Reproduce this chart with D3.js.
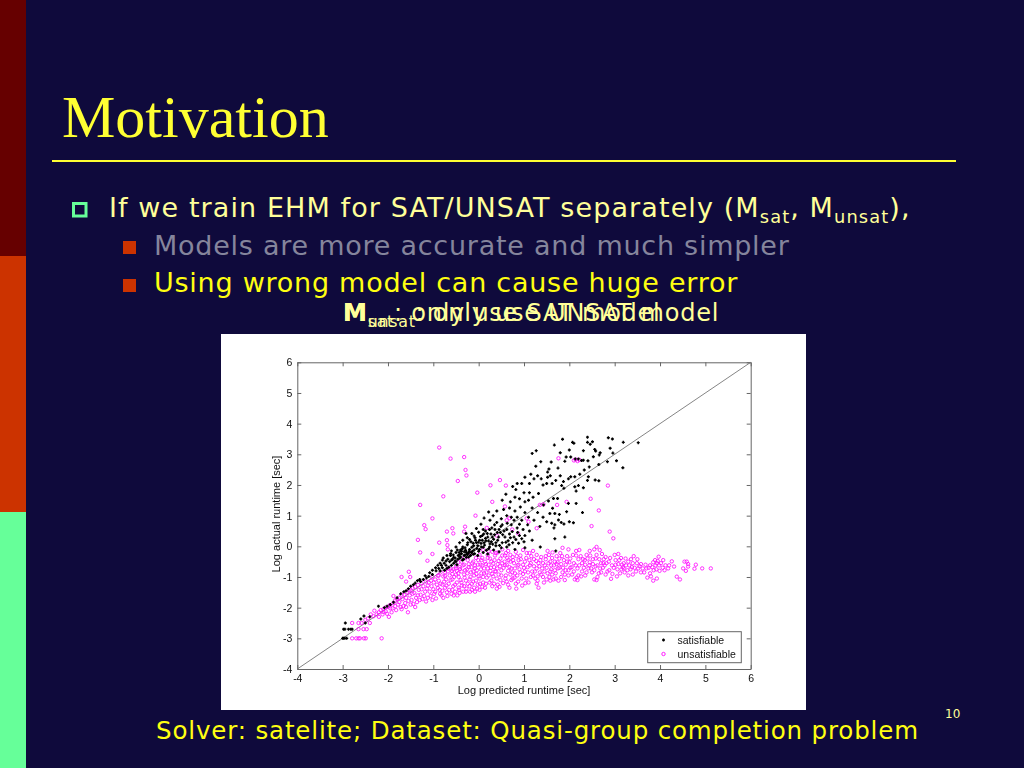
<!DOCTYPE html>
<html><head><meta charset="utf-8">
<script src="https://cdn.jsdelivr.net/npm/d3@7"></script>
<style>html,body{margin:0;padding:0;background:#0f0a3c;overflow:hidden}svg{display:block}</style>
</head><body><svg id="s" width="1024" height="768"></svg>
<script>
const xTicks=[-4,-3,-2,-1,0,1,2,3,4,5,6];
const yTicks=[-4,-3,-2,-1,0,1,2,3,4,5,6];
const legendLabels=["satisfiable","unsatisfiable"];
const axisLabels=["Log predicted runtime [sec]","Log actual runtime [sec]"];
const diagonal=[-4,6];
const satisfiable=[[3.52,3.38],[3.19,3.39],[3.18,2.56],[3.04,2.79],[2.95,3.5],[2.86,3.54],[2.9,3.2],[2.96,3.04],[2.84,2.76],[2.65,2.67],[2.68,3.05],[2.66,2.98],[2.56,3.16],[2.58,3.11],[2.4,3.56],[2.51,3.41],[2.4,3.39],[2.46,3.33],[2.07,3.39],[2.1,3.36],[1.85,3.49],[1.67,3.3],[1.8,3.05],[2,3.14],[2.31,3.12],[1.27,3.12],[1.18,3.03],[1.37,2.76],[1.26,2.61],[2.03,2.91],[1.93,2.91],[1.9,2.77],[2.13,2.85],[2.2,2.85],[2.27,2.8],[2.31,2.81],[2.41,2.79],[2.53,2.92],[2.44,2.59],[2.33,2.49],[2.23,2.35],[2.12,2.27],[2.03,2.27],[1.98,2.2],[1.87,2.11],[1.83,1.98],[1.88,1.89],[2.12,1.94],[2.2,1.98],[2.15,1.8],[2.31,1.91],[2.4,2.15],[2.42,2.27],[2.57,2.16],[2.65,2.14],[2.29,1.1],[2.15,1.4],[1.98,1.4],[1.94,1.13],[2,0.8],[2.09,0.77],[1.88,0.73],[1.82,0.78],[1.76,0.86],[1.68,0.7],[1.61,0.75],[1.66,0.6],[1.57,1.07],[1.68,1.07],[1.78,1.04],[1.63,1.24],[1.74,1.56],[1.65,1.56],[1.54,1.48],[1.43,1.35],[1.6,2.75],[1.75,2.55],[1.55,2.52],[1.52,2.42],[1.58,2.3],[1.52,2.25],[1.7,2.15],[1.8,2.3],[1.62,2.05],[1.5,2.05],[1.42,2],[1.38,2.2],[1.3,2.3],[1.15,2.35],[1.22,2.2],[1.12,2.05],[1.02,2.25],[0.95,2.05],[0.85,2.05],[0.82,1.85],[0.75,1.95],[1,1.75],[1.12,1.75],[1.2,1.6],[1.32,1.72],[1.1,1.5],[1.02,1.45],[0.9,1.55],[0.8,1.6],[0.7,1.45],[0.6,1.7],[0.52,1.5],[0.55,1.2],[0.68,1.25],[0.8,1.15],[0.92,1.28],[1.02,1.1],[1.18,1.25],[1.3,1.1],[1.42,0.95],[1.5,0.8],[1.35,0.65],[1.22,0.85],[1.1,0.95],[0.95,0.85],[0.85,0.95],[0.72,0.95],[0.62,1],[0.5,0.9],[0.4,1.15],[0.32,1.0],[0.25,0.85],[0.4,0.78],[0.52,0.7],[0.62,0.55],[0.72,0.7],[0.85,0.6],[0.98,0.55],[1.12,0.5],[1.02,0.35],[0.9,0.35],[0.78,0.3],[0.68,0.4],[0.58,0.3],[0.48,0.45],[0.36,0.55],[0.24,0.55],[0.15,0.5],[0.08,0.35],[0.2,0.3],[0.3,0.3],[0.42,0.2],[0.52,0.12],[0.65,0.18],[0.75,0.12],[0.88,0.1],[1,0.15],[1.18,0.2],[1.36,-0.02],[1.68,0.25],[1.9,0.3],[1.7,-0.15],[1.02,-0.05],[0.8,-0.1],[0.62,-0.02],[0.5,-0.05],[0.38,0.02],[0.25,0.08],[0.12,0.12],[0.02,0.2],[-0.08,0.28],[-0.12,0.1],[-0.02,0.02],[0.1,-0.03],[0.22,-0.08],[0.33,-0.12],[0.45,-0.18],[-0.2,0.22],[-0.28,0.42],[-0.15,0.42],[-0.05,0.58],[0.05,0.72],[0.12,0.92],[0.22,1.12],[-0.25,0.05],[-0.35,0.2],[-0.42,0.12],[-0.3,-0.05],[-0.2,-0.1],[-0.1,-0.12],[0,-0.16],[0.1,-0.2],[0.2,-0.25],[-0.5,-0.02],[-0.4,-0.12],[-0.32,-0.18],[-0.22,-0.22],[-0.12,-0.26],[-0.02,-0.3],[-0.6,-0.15],[-0.5,-0.2],[-0.42,-0.28],[-0.32,-0.3],[-0.22,-0.35],[-0.7,-0.3],[-0.62,-0.3],[-0.55,-0.36],[-0.46,-0.42],[-0.36,-0.45],[-0.8,-0.45],[-0.72,-0.48],[-0.64,-0.5],[-0.55,-0.55],[-0.48,-0.6],[-0.9,-0.62],[-0.82,-0.62],[-0.72,-0.62],[-0.66,-0.68],[-1.02,-0.78],[-0.94,-0.8],[-0.85,-0.8],[-0.75,-0.78],[-1.15,-1.03],[-1.1,-0.98],[-1.22,-1.08],[-1.02,-0.92],[-1.35,-1.12],[-1.28,-1.15],[-1.5,-1.3],[-1.55,-1.38],[-1.6,-1.45],[-1.72,-1.55],[-1.88,-1.82],[-1.95,-1.9],[-2.21,-1.95],[-2.6,-2.37],[-2.53,-2.27],[-2.5,-2.5],[-2.4,-2.3],[-3,-3],[-2.98,-3],[-2.95,-3],[-2.91,-3],[-2.98,-2.7],[-2.95,-2.7],[-2.87,-2.7],[-2.82,-2.7],[-2.79,-2.7],[-2.94,-2.5],[-0.7,-0.72],[-0.6,-0.62],[-0.5,-0.5],[-0.4,-0.35],[-0.3,-0.28],[-0.15,-0.03],[-0.05,0.12],[0.05,0.1],[0.16,0.18],[0.28,0.15],[0.35,0.38],[0.45,0.55],[-0.58,-0.42],[-0.45,-0.3],[-0.35,-0.02],[-0.25,0.28],[-0.1,0.34],[0,0.46],[0.1,0.55],
[-0.62,-0.24],[-0.56,-0.28],[-0.52,-0.38],[-0.47,-0.12],[-0.43,-0.2],[-0.38,-0.24],[-0.36,-0.08],[-0.33,-0.42],[-0.29,-0.13],[-0.27,-0.36],[-0.24,0.12],[-0.21,-0.16],[-0.18,-0.3],[-0.17,0.15],[-0.14,-0.17],[-0.11,0.02],[-0.09,-0.24],[-0.07,0.2],[-0.04,-0.07],[-0.01,0.13],[0.02,-0.1],[0.04,0.32],[0.06,-0.02],[0.08,0.2],[0.11,0.4],[0.13,0.04],[0.15,0.26],[0.17,-0.13],[0.19,0.42],[0.22,0.17],[0.24,-0.02],[0.27,0.4],[0.29,0.6],[0.31,0.07],[0.33,0.23],[0.35,0.7],[0.38,0.12],[0.41,0.45],[0.44,0.3],[0.46,0.03],[0.49,0.65],[0.53,0.38],[0.56,0.5],[0.6,0.13],[0.63,0.75],[0.67,0.05],[0.7,0.28],[0.74,0.48],[0.78,0.85],[0.82,0.22],[0.86,0.45],[0.9,0.72],[0.95,0.25],[1.08,0.7],[-0.78,-0.38],[-0.68,-0.42],[-0.85,-0.55],[-0.76,-0.55],[-0.6,-0.45],[-0.52,-0.48],[-0.95,-0.7],[-0.88,-0.72],[-0.8,-0.7],[-0.42,-0.38],[-0.38,-0.16],[-0.27,-0.2],[-0.25,-0.27],[-0.16,-0.2],[-1.4,-1.2],[-1.44,-1.25],[-1.3,-1.08],[-1.18,-0.96],[-1.08,-0.86],[-2.02,-1.95],[-2.08,-2],[-1.65,-1.48],[-1.8,-1.68]];
const unsatisfiable=[[-0.87,3.22],[-0.62,2.86],[-0.32,2.91],[-0.29,2.49],[-0.27,2.31],[-0.46,2.13],[0.47,2.16],[0.26,1.99],[0.6,1.98],[-0.03,1.75],[-0.78,1.63],[-1.29,1.35],[0.3,1.45],[0.58,1.3],[-0.07,1],[-1.02,0.91],[-1.2,0.69],[-1.17,0.56],[-0.7,0.48],[-0.58,0.59],[-0.56,0.42],[-0.32,0.48],[-0.3,0.64],[-1.34,0.21],[-1.29,-0.2],[-0.87,0.12],[-0.7,0.2],[-0.69,0.04],[-0.68,-0.1],[-1.02,-0.25],[-1.13,-0.47],[-1.54,-0.83],[-1.7,-1],[-1.51,-1],[-1.6,-1.15],[-1.88,-1.62],[2.85,1.98],[2.47,1.55],[2.65,1.17],[2.49,0.66],[2.89,0.48],[2.97,0.26],[1.94,1.45],[1.73,1.35],[1.76,2.87],[2.1,2.8],[2.14,2.83],[2.18,2.78],[2.22,2.82],[1.35,1.35],[1.43,1.37],[1.06,0.91],[1.1,0.8],[1.28,0.59],[0.87,0.42],[0.62,0.85],[0.68,0.92],[0.74,0.55],[0.4,0.35],[0.18,0.6],
[5.12,-0.72],[4.93,-0.72],[4.79,-0.6],[4.76,-0.73],[4.54,-0.5],[4.59,-0.5],[4.62,-0.58],[4.62,-0.66],[4.51,-0.72],[4.57,-0.8],[4.37,-0.99],[4.44,-1.08],[4.26,-0.49],[4.31,-0.66],[4.18,-0.72],[4.07,-0.45],[3.97,-0.34],[3.89,-0.45],[3.85,-0.52],[3.93,-0.55],[3.98,-0.62],[4.06,-0.7],[4.1,-0.78],[3.99,-0.8],[3.92,-0.75],[3.83,-0.68],[3.75,-0.7],[3.68,-0.6],[3.62,-0.72],[3.55,-0.65],[3.49,-0.55],[3.42,-0.32],[3.36,-0.42],[3.3,-0.5],[3.25,-0.62],[3.38,-0.68],[3.47,-0.82],[3.4,-0.92],[3.72,-1.02],[3.8,-0.98],[3.85,-1.12],[3.93,-1.05],[3.78,-0.88],[3.3,-0.95],[3.22,-0.85],[3.15,-0.75],[3.08,-0.58],[3.02,-0.45],[3,-0.28],[3.08,-0.25],[3.14,-0.38],[3.2,-0.55],[2.94,-0.62],[2.88,-0.78],[2.8,-0.92],[2.92,-1.06],[3.05,-0.98],[3.12,-0.88],[2.72,-0.25],[2.8,-0.35],[2.87,-0.5],[2.75,-0.55],[2.66,-0.42],[2.6,-0.28],[2.55,-0.1],[2.6,-0.02],[2.67,-0.12],[2.52,-0.42],[2.45,-0.52],[2.58,-0.65],[2.68,-0.72],[2.7,-0.85],[2.62,-1],[2.55,-1.08],[2.6,-1.1],[2.5,-0.85],[2.42,-0.72],[2.35,-0.6],[2.3,-0.42],[2.38,-0.28],[2.45,-0.15],[2.28,-0.55],[2.2,-0.42],[2.15,-0.3],[2.22,-0.12],[2.15,-0.15],[2.1,-0.55],[2.05,-0.68],[2.18,-0.72],[2.28,-0.82],[2.2,-0.95],[2.12,-1.08],[2.18,-1.1],[2.06,-0.92],[1.98,-0.78],[1.92,-0.6],[1.88,-0.45],[1.95,-0.32],[1.98,-0.1],[1.85,-0.05],[1.8,-0.22],[1.78,-0.4],[1.82,-0.58],[1.75,-0.72],[1.85,-0.85],[1.82,-1],[1.7,-1.05],[1.62,-0.92],[1.68,-0.78],[1.6,-0.62],[1.68,-0.5],[1.62,-0.38],[1.55,-0.28],[1.58,-0.5],[1.5,-0.7],[1.42,-0.55],[1.48,-0.42],[1.38,-0.35],[1.52,-0.15],[1.58,-1.12],[1.5,-1.08],[1.42,-1],[1.35,-0.85],[1.28,-0.72],[1.32,-0.55],[1.22,-0.42],[1.28,-0.28],[1.2,-0.15],[1.12,-0.22],[1.05,-0.38],[1.15,-0.55],[1.08,-0.68],[1.18,-0.82],[1.15,-1],[1.25,-1.05],[1.28,-1.22],[1.32,-1.35],[1.03,-1.2],[0.95,-1.05],[0.98,-0.9],[0.9,-0.75],[0.98,-0.6],[0.88,-0.45],[0.92,-0.3],[0.82,-0.18],[0.98,-0.12],[0.75,-0.35],[0.78,-0.55],[0.72,-0.72],[0.8,-0.88],[0.75,-1.05],[0.82,-1.22],[0.83,-1.38],[0.68,-1.35],[0.62,-1.15],[0.6,-0.95],[0.65,-0.8],[0.58,-0.62],[0.66,-0.45],[0.58,-0.3],[0.65,-0.15],[0.52,-0.1],[0.48,-0.4],[0.42,-0.58],[0.5,-0.78],[0.44,-0.92],[0.48,-1.1],[0.42,-1.25],[0.4,-1.38],[0.3,-1.3],[0.28,-1.12],[0.32,-0.98],[0.26,-0.8],[0.34,-0.68],[0.28,-0.5],[0.36,-0.3],[0.3,-0.18],[0.2,-0.38],[0.16,-0.58],[0.2,-0.72],[0.12,-0.88],[0.18,-1.02],[0.1,-1.18],[0.14,-1.35],[0.02,-1.42],[-0.08,-1.48],[-0.02,-1.25],[0.02,-1.05],[-0.05,-0.9],[0.05,-0.75],[-0.02,-0.6],[0.06,-0.45],[-0.06,-0.38],[0.02,-0.28],[-0.12,-0.5],[-0.16,-0.68],[-0.12,-0.82],[-0.18,-1],[-0.12,-1.15],[-0.2,-1.3],[-0.15,-1.42],[-0.28,-1.48],[-0.32,-1.3],[-0.28,-1.12],[-0.32,-0.92],[-0.26,-0.75],[-0.32,-0.6],[-0.24,-0.45],[-0.38,-0.5],[-0.42,-0.68],[-0.38,-0.82],[-0.44,-1],[-0.38,-1.18],[-0.44,-1.35],[-0.42,-1.52],[-0.55,-1.6],[-0.58,-1.42],[-0.52,-1.25],[-0.58,-1.08],[-0.5,-0.92],[-0.56,-0.75],[-0.5,-0.65],[-0.62,-0.72],[-0.68,-0.82],[-0.64,-0.95],[-0.72,-1.08],[-0.66,-1.22],[-0.74,-1.35],[-0.7,-1.5],[-0.82,-1.6],[-0.86,-1.42],[-0.8,-1.25],[-0.88,-1.12],[-0.78,-0.98],[-0.84,-0.85],[-0.9,-0.96],[-0.96,-1.08],[-0.92,-1.25],[-1,-1.4],[-0.98,-1.55],[-1.02,-1.75],[-1.12,-1.68],[-1.08,-1.48],[-1.12,-1.28],[-1.05,-1.12],[-1.02,-1],[-1.16,-1.15],[-1.22,-1.3],[-1.18,-1.48],[-1.28,-1.58],[-1.24,-1.72],[-1.36,-1.82],[-1.32,-1.42],[-1.4,-1.32],[-1.42,-1.52],[-1.38,-1.68],[-1.48,-1.75],[-1.52,-1.6],[-1.5,-1.42],[-1.58,-1.5],[-1.6,-1.68],[-1.56,-2.15],[-1.5,-1.9],[-1.62,-1.85],[-1.68,-1.72],[-1.7,-1.58],[-1.75,-1.82],[-1.8,-1.72],[-1.72,-1.98],[-1.84,-1.95],[-1.88,-1.85],[-1.95,-2.02],[-2,-1.98],[-1.92,-2.15],[-2.05,-2.12],[-2.1,-2.05],[-1.98,-2.3],[-2.12,-2.22],[-2.2,-2.15],[-2.25,-2.22],[-2.3,-2.1],[-2.32,-2.28],[-2.38,-2.22],[-2.44,-2.35],[-2.5,-2.4],[-0.58,-0.9],[-0.48,-0.8],[-0.74,-0.85],[-1.26,-1.2],[-1.34,-1.26],[-1.46,-1.36],[-1.54,-1.44],[-1.64,-1.58],[-1.76,-1.68],[-1.84,-1.76],[-1.96,-1.92],[-2.06,-2],[-2.16,-2.08],[-2.79,-3],[-2.7,-3],[-2.65,-3],[-2.62,-3],[-2.53,-3],[-2.49,-3],[-2.14,-3],[-2.79,-2.5],[-2.65,-2.5],[-2.58,-2.5],[-2.4,-2.5],[-2.47,-2.7],[-2.54,-2.7],[-2.65,-2.7],[-0.18,-0.22],[-0.32,-0.38],[-0.45,-0.52],[0.1,-0.12],[0.22,-0.16],[0.42,-0.2],[0.6,-0.22],[0.35,-0.45],[0.08,-0.62],[-0.08,-0.72],[-0.22,-0.58],[0.22,-0.95],[0.38,-0.82],[0.52,-0.55],[0.7,-0.5],[0.7,-0.92],[0.86,-0.62],[1.02,-0.82],[1.12,-0.45],[1.3,-0.98],[1.45,-0.82],[1.58,-0.82],[1.72,-0.58],[1.9,-0.92],[2,-0.52],[2.35,-0.95],[2.4,-0.4],[2.78,-0.62],[3.18,-0.68],[3.58,-0.85],
[-2.2,-2.3],[-2.1,-2.14],[-2.02,-2.2],[-1.9,-2.02],[-1.82,-2.08],[-1.78,-1.9],[-1.66,-1.95],[-1.7,-2.05],[-1.6,-1.98],[-1.55,-1.78],[-1.46,-1.55],[-1.44,-1.88],[-1.4,-1.98],[-1.34,-1.6],[-1.3,-1.75],[-1.26,-1.4],[-1.2,-1.62],[-1.16,-1.8],[-1.14,-1.38],[-1.1,-1.18],[-1.06,-1.62],[-1.04,-1.3],[-0.99,-1.18],[-0.96,-1.48],[-0.94,-1.7],[-0.9,-1.36],[-0.88,-0.95],[-0.85,-1.55],[-0.84,-1.22],[-0.8,-1.45],[-0.78,-1.68],[-0.76,-1.15],[-0.74,-0.96],[-0.71,-1.28],[-0.69,-1.62],[-0.67,-0.72],[-0.65,-1.42],[-0.62,-1.1],[-0.6,-1.55],[-0.59,-0.8],[-0.56,-1.3],[-0.54,-1],[-0.52,-1.48],[-0.5,-0.72],[-0.48,-1.18],[-0.47,-1.6],[-0.45,-0.88],[-0.43,-1.42],[-0.41,-0.74],[-0.4,-1.1],[-0.37,-1.28],[-0.35,-0.62],[-0.34,-1.48],[-0.31,-1.02],[-0.3,-0.78],[-0.27,-1.38],[-0.25,-0.88],[-0.24,-1.22],[-0.22,-0.68],[-0.2,-1.08],[-0.19,-1.48],[-0.17,-0.85],[-0.15,-1.22],[-0.14,-0.55],[-0.1,-0.95],[-0.1,-1.35],[-0.08,-0.62],[-0.06,-1.12],[-0.04,-0.78],[-0.03,-1.38],[-0.01,-0.45],[0,-0.98],[0.03,-1.22],[0.04,-0.6],[0.06,-0.88],[0.08,-1.32],[0.08,-0.38],[0.1,-1],[0.12,-0.72],[0.14,-0.5],[0.16,-1.22],[0.17,-0.85],[0.2,-0.28],[0.22,-0.6],[0.24,-1.18],[0.25,-0.4],[0.27,-0.7],[0.3,-0.9],[0.32,-0.56],[0.34,-1.22],[0.36,-0.82],[0.38,-0.22],[0.4,-1.05],[0.41,-0.72],[0.44,-0.48],[0.46,-1.32],[0.47,-0.65],[0.5,-0.95],[0.52,-0.3],[0.54,-1.2],[0.55,-0.7],[0.57,-0.5],[0.59,-1.05],[0.62,-0.6],[0.63,-0.38],[0.65,-1.25],[0.68,-0.68],[0.7,-0.28],[0.72,-1.1],[0.74,-0.85],[0.76,-0.45],[0.79,-1.02],[0.8,-0.72],[0.84,-0.32],[0.85,-0.95],[0.87,-1.15],[0.88,-0.6],[0.92,-0.85],[0.93,-0.42],[0.96,-1.28],[1,-0.7],[1.02,-0.5],[1.05,-1.05],[1.06,-0.22],[1.09,-0.85],[1.1,-1.18],[1.13,-0.62],[1.16,-0.32],[1.2,-0.95],[1.22,-0.65],[1.24,-0.82],[1.27,-0.48],[1.3,-1.12],[1.34,-0.65],[1.36,-0.45],[1.38,-0.92],[1.4,-0.72],[1.44,-1.18],[1.46,-0.62],[1.48,-0.32],[1.52,-0.88],[1.54,-0.55],[1.56,-1],[1.6,-0.75],[1.63,-0.2],[1.65,-1.08],[1.66,-0.62],[1.7,-0.88],[1.72,-0.32],[1.74,-0.52],[1.76,-1.12],[1.78,-0.7],[1.84,-0.32],[1.86,-0.7],[1.9,-1.1],[1.92,-0.78],[1.95,-0.5],[1.98,-0.95],[2.02,-0.4],[2.02,-0.7],[2.08,-0.28],[2.1,-0.82],[2.14,-0.62],[2.16,-1.02],[2.22,-0.62],[2.25,-0.32],[2.26,-0.98],[2.32,-0.7],[2.34,-0.45],[2.38,-0.85],[2.44,-0.62],[2.46,-0.3],[2.48,-0.72],[2.52,-0.58],[2.55,-0.78],[2.58,-0.4],[2.62,-0.62],[2.65,-0.88],[2.7,-0.55],[2.74,-0.7],[2.76,-0.42],[2.82,-0.55],[2.84,-0.82],[2.9,-0.38],[2.95,-0.9],[2.98,-0.7],[3.02,-0.6],[3.06,-0.75],[3.1,-0.45],[3.16,-0.6],[3.2,-0.72],[3.24,-0.4],[3.28,-0.78],[3.32,-0.62],[3.35,-0.75],[3.4,-0.55],[3.44,-0.7],[3.5,-0.42],[3.52,-0.72],[3.58,-0.58],[3.65,-0.85],[3.7,-0.72],[3.78,-0.62],[3.86,-0.78],[3.9,-0.62],[3.95,-0.48],[4.02,-0.55],[4.12,-0.62],[4.2,-0.62]];
const W=1024,H=768;
const svg=d3.select("#s");
svg.append("rect").attr("width",W).attr("height",H).attr("fill","#0f0a3c");
[["#660000",0,256],["#cc3300",256,256],["#66ff99",512,256]].forEach(d=>svg.append("rect").attr("x",0).attr("y",d[1]).attr("width",26).attr("height",d[2]).attr("fill",d[0]));
svg.append("text").attr("x",62).attr("y",137).attr("font-family","Liberation Serif").attr("font-size",60).attr("fill","#ffff33").text("Motivation");
svg.append("rect").attr("x",52).attr("y",160).attr("width",904).attr("height",2).attr("fill","#ffff33");
const sans="DejaVu Sans";
svg.append("rect").attr("x",73.5).attr("y",203.5).attr("width",12.5).attr("height",12.5).attr("fill","none").attr("stroke","#66ff99").attr("stroke-width",3);
[241,279].forEach(y=>svg.append("rect").attr("x",123).attr("y",y).attr("width",13).attr("height",13).attr("fill","#cc3300"));
function line(x,y,size,ls,fill,parts){
  const t=svg.append("text").attr("x",x).attr("y",y).attr("font-family",sans).attr("font-size",size).attr("letter-spacing",ls).attr("fill",fill);
  parts.forEach(p=>{
    const s=t.append("tspan").text(p.t);
    if(p.b)s.attr("font-weight","bold");
    if(p.sub)s.attr("font-size",size*0.66).attr("dy",6);
    if(p.up)s.attr("dy",-6);
  });
}
line(109,217,27,1.1,"#ffff99",[{t:"If we train EHM for SAT/UNSAT separately (M"},{t:"sat",sub:1},{t:", M",up:1},{t:"unsat",sub:1},{t:"),",up:1}]);
line(154,255,27,0.75,"#85859c",[{t:"Models are more accurate and much simpler"}]);
line(154,292,27,0.75,"#ffff11",[{t:"Using wrong model can cause huge error"}]);
line(343,321,24,0.75,"#ffff99",[{t:"M",b:1},{t:"unsat",sub:1},{t:": only use UNSAT model",up:1}]);
line(343,321,24,0.75,"#ffff99",[{t:"M",b:1},{t:"sat",sub:1},{t:": only use SAT model",up:1}]);
line(156,739,24.5,0.85,"#ffff11",[{t:"Solver: satelite; Dataset: Quasi-group completion problem"}]);
svg.append("text").attr("x",945).attr("y",718).attr("font-family","DejaVu Sans").attr("font-size",12).attr("fill","#ffff99").text("10");
svg.append("rect").attr("x",221).attr("y",334).attr("width",585).attr("height",376).attr("fill","#fff");
svg.append("defs").append("filter").attr("id","b").append("feGaussianBlur").attr("stdDeviation",0.35);
const g=svg.append("g").attr("filter","url(#b)");
const x=d3.scaleLinear().domain([-4,6]).range([297.3,750.7]);
const y=d3.scaleLinear().domain([-4,6]).range([669,362.3]);
const gc="#666";
function ax(a,tr,lab){
  const n=g.append("g").attr("transform",tr).call(a);
  n.selectAll("path,line").attr("stroke",gc).attr("stroke-width",1);
  n.selectAll("text").attr("font-family","Liberation Sans").attr("font-size",10.5).attr("fill","#111");
  if(!lab)n.selectAll("text").remove();
}
const fmt=d=>String(d);
ax(d3.axisBottom(x).tickValues(xTicks).tickFormat(fmt).tickSize(-4).tickSizeOuter(0).tickPadding(6),"translate(0,669)",true);
ax(d3.axisTop(x).tickValues(xTicks).tickSize(-4).tickSizeOuter(0),"translate(0,362.3)",false);
ax(d3.axisLeft(y).tickValues(yTicks).tickFormat(fmt).tickSize(-4).tickSizeOuter(0).tickPadding(5),"translate(297.3,0)",true);
ax(d3.axisRight(y).tickValues(yTicks).tickSize(-4).tickSizeOuter(0),"translate(750.7,0)",false);
g.append("line").attr("x1",x(diagonal[0])).attr("y1",y(diagonal[0])).attr("x2",x(diagonal[1])).attr("y2",y(diagonal[1])).attr("stroke","#777").attr("stroke-width",0.9);
function star(sel,cx,cy){sel.append("path").attr("d",`M${cx-1.5},${cy}H${cx+1.5}M${cx},${cy-1.5}V${cy+1.5}`).attr("stroke","#000").attr("stroke-width",1.4).attr("fill","none");}
g.append("g").selectAll("circle").data(unsatisfiable).join("circle").attr("cx",d=>x(d[0])).attr("cy",d=>y(d[1])).attr("r",1.7).attr("fill","none").attr("stroke","#ff11ff").attr("stroke-width",0.95).attr("stroke-opacity",0.9);
const sat=g.append("g");
satisfiable.forEach(d=>star(sat,x(d[0]),y(d[1])));
g.append("rect").attr("x",647.7).attr("y",631.7).attr("width",93.6).attr("height",31).attr("fill","#fff").attr("stroke",gc);
star(g,663.5,640);
g.append("circle").attr("cx",663.5).attr("cy",654).attr("r",1.7).attr("fill","none").attr("stroke","#ff11ff").attr("stroke-width",0.95);
legendLabels.forEach((t,i)=>g.append("text").attr("x",677.5).attr("y",643.5+i*14).attr("font-family","Liberation Sans").attr("font-size",10.5).attr("fill","#111").text(t));
g.append("text").attr("x",(x(-4)+x(6))/2).attr("y",693.5).attr("text-anchor","middle").attr("font-family","Liberation Sans").attr("font-size",11).attr("fill","#111").text(axisLabels[0]);
g.append("text").attr("transform","translate(279.5,514) rotate(-90)").attr("text-anchor","middle").attr("font-family","Liberation Sans").attr("font-size",11).attr("fill","#111").text(axisLabels[1]);
</script></body></html>
